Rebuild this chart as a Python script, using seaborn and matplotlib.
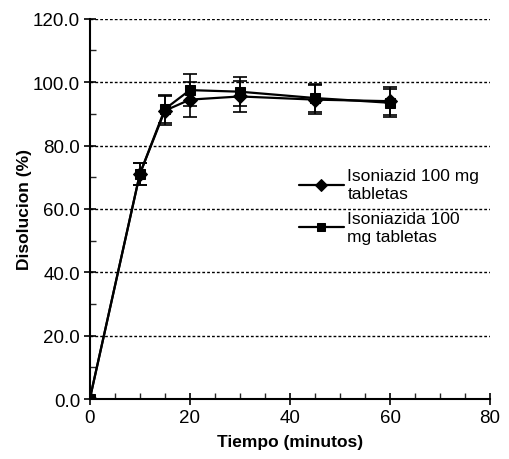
import matplotlib
matplotlib.use("Agg")
import matplotlib.pyplot as plt
import seaborn as sns
import pandas as pd
import numpy as np
from matplotlib.ticker import MultipleLocator, FormatStrFormatter

sns.set_style("white")
plt.rcParams['font.family'] = ['Liberation Sans', 'DejaVu Sans']
plt.rcParams['text.color'] = 'black'
plt.rcParams['axes.labelcolor'] = 'black'

tiempo = [0, 10, 15, 20, 30, 45, 60]
serie1_name = "Isoniazid 100 mg\ntabletas"
serie2_name = "Isoniazida 100\nmg tabletas"
serie1 = [0.0, 71.0, 91.0, 94.5, 95.5, 94.5, 94.0]
serie1_err = [0.0, 3.5, 4.5, 5.5, 5.0, 4.5, 4.5]
serie2 = [0.0, 71.0, 91.5, 97.5, 97.0, 95.0, 93.5]
serie2_err = [0.0, 3.5, 4.5, 5.0, 4.5, 4.5, 4.5]

df = pd.DataFrame({
    "Tiempo": tiempo * 2,
    "Disolucion": serie1 + serie2,
    "Serie": [serie1_name] * len(tiempo) + [serie2_name] * len(tiempo),
})

fig = plt.figure(figsize=(5.1, 4.6), dpi=100)
ax = fig.add_axes([0.176, 0.130, 0.785, 0.827])

for yv in [20, 40, 60, 80, 100, 120]:
    ax.axhline(yv, color="black", linestyle=(0, (2, 1.5)), linewidth=1.0, zorder=1)

for t, y, e in [(tiempo, serie1, serie1_err), (tiempo, serie2, serie2_err)]:
    ax.errorbar(t, y, yerr=e, fmt="none", ecolor="black", elinewidth=1.2,
                capsize=5, capthick=1.2, zorder=2)

sns.lineplot(data=df, x="Tiempo", y="Disolucion", hue="Serie", style="Serie",
             markers={serie1_name: "D", serie2_name: "s"}, dashes=False,
             palette={serie1_name: "black", serie2_name: "black"},
             markersize=7, linewidth=1.6, markeredgecolor="black", ax=ax, zorder=3)

ax.set_xlim(0, 80)
ax.set_ylim(0, 120)
ax.xaxis.set_major_locator(MultipleLocator(20))
ax.xaxis.set_minor_locator(MultipleLocator(5))
ax.yaxis.set_major_locator(MultipleLocator(20))
ax.yaxis.set_minor_locator(MultipleLocator(10))
ax.yaxis.set_major_formatter(FormatStrFormatter("%.1f"))
ax.tick_params(axis="both", which="major", direction="inout", length=8, width=1.2,
               labelsize=13.5, colors="black", left=True, bottom=True, pad=3)
ax.tick_params(axis="both", which="minor", direction="in", length=4, width=1.0,
               left=True, bottom=True)
for s in ["top", "right"]:
    ax.spines[s].set_visible(False)
for s in ["left", "bottom"]:
    ax.spines[s].set_color("black")
    ax.spines[s].set_linewidth(1.5)

ax.set_xlabel("Tiempo (minutos)", fontsize=12.5, fontweight="bold", labelpad=6)
ax.set_ylabel("Disolucion (%)", fontsize=12.5, fontweight="bold", labelpad=1)

leg = ax.legend(loc="upper left", bbox_to_anchor=(0.505, 0.625), frameon=False,
                fontsize=12.5, handlelength=2.6, labelspacing=0.6, borderaxespad=0,
                handletextpad=0.2, markerscale=0.85)

fig.savefig("out.png", dpi=100)
